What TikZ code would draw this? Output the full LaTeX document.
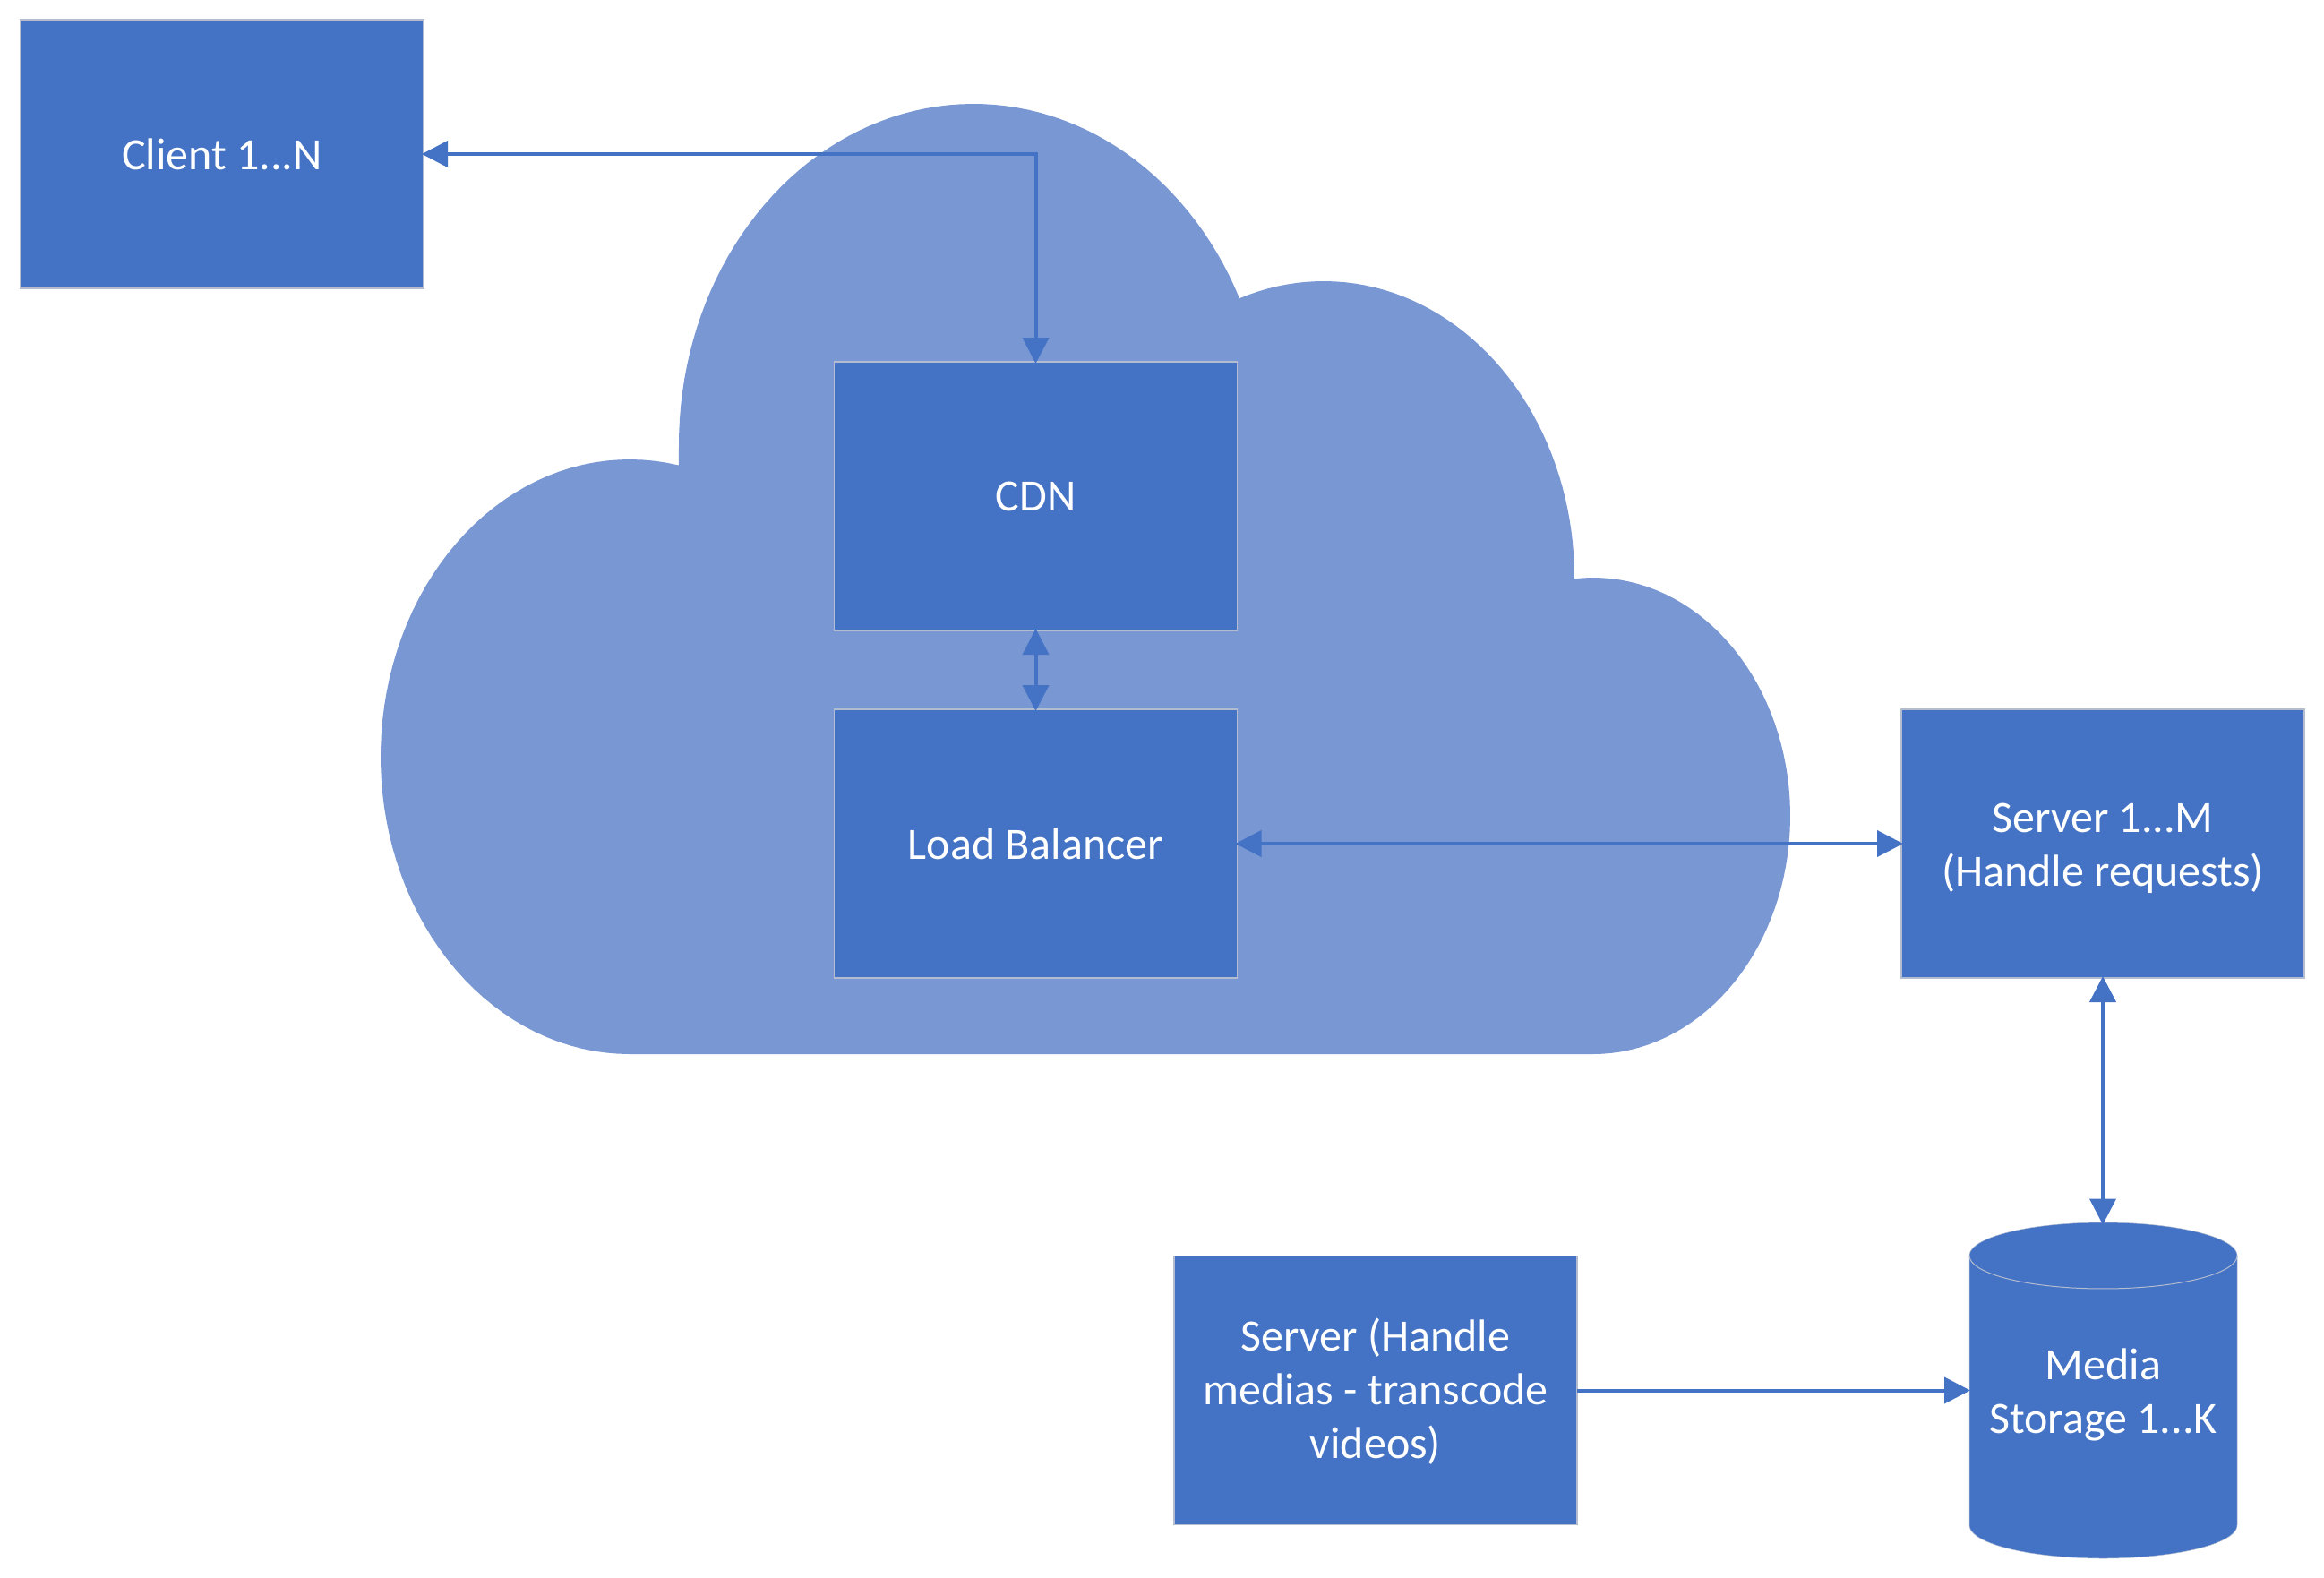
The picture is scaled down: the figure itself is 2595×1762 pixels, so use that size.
\documentclass[tikz,border=0pt]{standalone}
\usepackage{fontspec}
\setmainfont{Carlito}
\usetikzlibrary{arrows.meta}
\definecolor{boxblue}{HTML}{4472C4}
\definecolor{cloudblue}{HTML}{7897D3}
\definecolor{rimgrey}{HTML}{B4BDD0}
\tikzset{
  blockbox/.style={rectangle,draw=rimgrey,line width=1.2pt,fill=boxblue,text=white,
    inner sep=0pt,outer sep=0pt,minimum width=450pt,minimum height=300pt,align=center,
    font=\fontsize{50}{60}\selectfont},
  storebox/.style={rectangle,text=white,
    inner sep=0pt,outer sep=0pt,minimum width=299pt,minimum height=374pt,align=center,
    font=\fontsize{50}{60}\selectfont},
  twoway/.style={draw=boxblue,line width=4pt,shorten <=-2pt,shorten >=-2pt,{Triangle[length=29pt,width=29pt]}-{Triangle[length=29pt,width=29pt]}},
  oneway/.style={draw=boxblue,line width=4pt,shorten >=-1pt,-{Triangle[length=29pt,width=29pt]}},
}
\begin{document}
\begin{tikzpicture}[x=1pt,y=-1pt]
\useasboundingbox (0,0) rectangle (2595,1762);
\fill[white] (0,0) rectangle (2595,1762);
% cloud
\fill[cloudblue]
  plot[domain=90:281.4,samples=70,variable=\t] ({703+278*cos(\t)},{845+332*sin(\t)})
  -- plot[domain=180:334.6,samples=70,variable=\t] ({1087+329*cos(\t)},{497+381*sin(\t)})
  -- plot[domain=250.4:360,samples=50,variable=\t] ({1478+280*cos(\t)},{645+331*sin(\t)})
  -- plot[domain=264.5:450,samples=70,variable=\t] ({1779+220*cos(\t)},{911+266*sin(\t)})
  -- cycle;
% boxes
\node[blockbox] (client) at (248,172) {Client 1...N};
\node[blockbox] (cdn) at (1156.5,554) {CDN};
\node[blockbox] (lb) at (1156.5,942) {Load Balancer};
\node[blockbox] (server) at (2348,942) {\rule{0pt}{43pt}Server 1...M\\(Handle requests)};
\node[blockbox] (transcode) at (1536,1552.5) {\rule{0pt}{39pt}Server (Handle\\medias - transcode\\videos)};
% storage cylinder
\fill[boxblue,draw=rimgrey,line width=0.5pt]
  plot[domain=180:360,samples=50,variable=\t] ({2348.5+149.5*cos(\t)},{1402+37*sin(\t)})
  -- plot[domain=0:180,samples=50,variable=\t] ({2348.5+149.5*cos(\t)},{1703+37*sin(\t)})
  -- cycle;
\draw[rimgrey,line width=1pt] plot[domain=0:180,samples=50,variable=\t] ({2348.5+149.5*cos(\t)},{1402+37*sin(\t)});
\node[storebox] (media) at (2348.5,1552.5) {\rule{0pt}{44pt}Media\\Storage 1...K};
% connectors
\draw[twoway] (client.east) -| (cdn.north);
\draw[twoway] (cdn.south) -- (lb.north);
\draw[twoway] (lb.east) -- (server.west);
\draw[twoway] (server.south) -- (server.south |- media.north);
\draw[oneway] (transcode.east) -- (media.west);
\end{tikzpicture}
\end{document}
